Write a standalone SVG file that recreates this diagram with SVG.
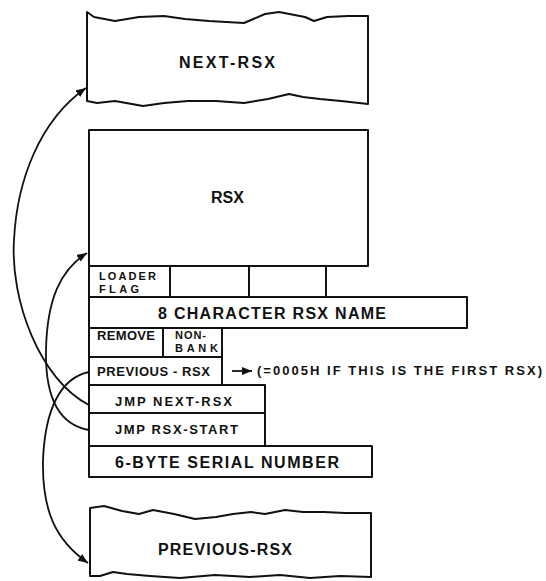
<svg xmlns="http://www.w3.org/2000/svg" width="546" height="581" viewBox="0 0 546 581">
<style>
  .box { fill: #fff; stroke: #111; stroke-width: 2; stroke-linejoin: round; }
  .ln { fill: none; stroke: #111; stroke-width: 2; }
  .con { fill: none; stroke: #111; stroke-width: 1.8; }
  text { font-family: "Liberation Sans", Arial, sans-serif; font-weight: bold; fill: #111; }
  .big { font-size: 16px; }
  .sm { font-size: 13px; }
  .xs { font-size: 11px; }
</style>
<defs>
  <marker id="ah" markerUnits="userSpaceOnUse" markerWidth="10" markerHeight="8" refX="10" refY="4" orient="auto">
    <path d="M0,0 L10,4 L0,8 z" fill="#111"/>
  </marker>
</defs>
<rect width="546" height="581" fill="#fff"/>

<g id="next-rsx">
  <path class="box" d="M87,12 L94,17 L115,21 L139,17 L164,16 L185,19 L209,21 L244,23 L265,14 L279,12 L305,17 L314,21 L327,17 L348,16 L368,16 L368,104 L341,101 L320,99 L303,97 L289,94 L268,99 L244,103 L216,101 L188,101 L164,103 L143,106 L115,101 L97,103 L87,101 Z"/>
  <text class="big" x="179" y="68" textLength="96">NEXT-RSX</text>
</g>

<g id="rsx">
  <rect class="box" x="89" y="130" width="279" height="136"/>
  <text class="big" x="211" y="203" textLength="33">RSX</text>
</g>

<g id="loader-flag-row">
  <path class="ln" d="M89,266 V297 M170,266 V297 M249,266 V297 M326,266 V297"/>
  <text class="xs" x="99" y="280" textLength="57">LOADER</text>
  <text class="xs" x="99" y="293" textLength="40">FLAG</text>
</g>

<g id="rsx-name">
  <rect class="box" x="89" y="297" width="378" height="31"/>
  <text class="big" x="158" y="319" textLength="228">8 CHARACTER RSX NAME</text>
</g>

<g id="remove">
  <rect class="box" x="89" y="328" width="74" height="29"/>
  <text class="sm" x="97" y="340" textLength="58">REMOVE</text>
</g>

<g id="non-bank">
  <rect class="box" x="163" y="328" width="59" height="29"/>
  <text class="xs" x="175" y="339" textLength="31">NON-</text>
  <text class="xs" x="175" y="352" textLength="43">BANK</text>
</g>

<g id="previous-rsx-field">
  <rect class="box" x="89" y="357" width="133" height="28"/>
  <text class="sm" x="97" y="376" textLength="113">PREVIOUS - RSX</text>
</g>

<g id="note">
  <text class="sm" x="257" y="375" textLength="285">(=0005H IF THIS IS THE FIRST RSX)</text>
</g>

<g id="jmp-next-rsx">
  <rect class="box" x="89" y="385" width="176" height="28"/>
  <text class="sm" x="115" y="406" textLength="117">JMP NEXT-RSX</text>
</g>

<g id="jmp-rsx-start">
  <rect class="box" x="89" y="413" width="176" height="33"/>
  <text class="sm" x="115" y="434" textLength="123">JMP RSX-START</text>
</g>

<g id="serial-number">
  <rect class="box" x="89" y="446" width="283" height="31"/>
  <text class="big" x="115" y="468" textLength="224">6-BYTE SERIAL NUMBER</text>
</g>

<g id="previous-rsx">
  <path class="box" d="M90,508 L104,506 L122,511 L139,514 L153,510 L174,514 L195,519 L216,517 L233,514 L251,512 L265,514 L285,510 L303,512 L324,512 L345,513 L371,513 L371,577 L340,576 L310,578 L280,575 L250,577 L215,575 L180,578 L150,576 L127,574 L113,572 L100,576 L90,576 Z"/>
  <text class="big" x="158" y="555" textLength="134">PREVIOUS-RSX</text>
</g>

<g id="connectors">
  <path class="con" d="M89,405 C40,380 10,300 14,240 C17,180 40,120 86,88" marker-end="url(#ah)"/>
  <path class="con" d="M89,430 C60,425 45,400 46,350 C47,300 60,270 87,253" marker-end="url(#ah)"/>
  <path class="con" d="M89,372 C60,378 45,410 43,460 C42,510 55,540 88,563" marker-end="url(#ah)"/>
  <path class="con" d="M232,371 H252" marker-end="url(#ah)"/>
</g>
</svg>
